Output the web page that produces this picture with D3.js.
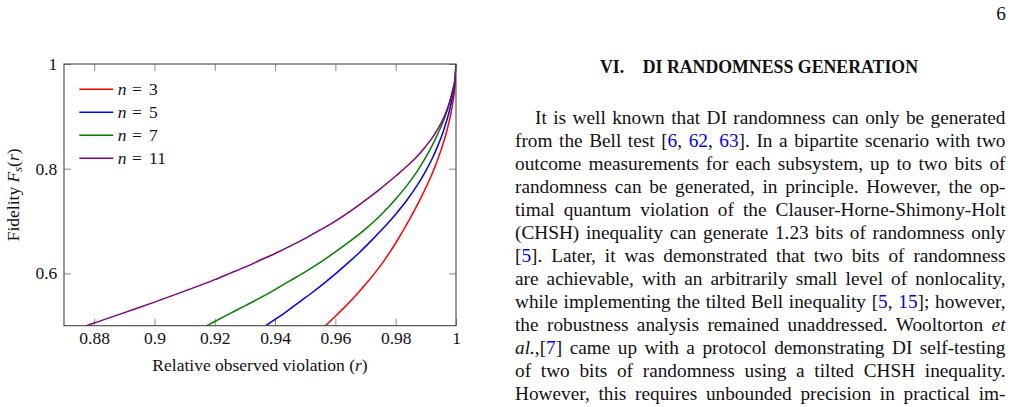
<!DOCTYPE html>
<html><head><meta charset="utf-8">
<script src="https://cdn.jsdelivr.net/npm/d3@7"></script>
<style>
html,body{margin:0;padding:0;background:#fff;}
svg{display:block;font-family:"Liberation Serif","Times New Roman",serif;}
</style></head><body>
<script>
// ---------- data ----------
const seriesN = ["3", "5", "7", "11"];
const seriesColors = ["#ff0000", "#0000ff", "#008000", "#800080"];

const r_n3 = [0.9567,0.958,0.960,0.963,0.966,0.970,0.973,0.976,0.978,0.980,0.983,0.986,0.989,0.991,0.993,0.995,0.997,0.998,0.999,0.9997,1.000];
const F_n3 = [0.500,0.507,0.518,0.535,0.553,0.579,0.600,0.623,0.640,0.658,0.687,0.718,0.752,0.776,0.803,0.835,0.873,0.897,0.928,0.960,1.000];

const r_n5 = [0.9369,0.940,0.944,0.948,0.952,0.956,0.960,0.964,0.968,0.972,0.976,0.980,0.984,0.987,0.990,0.992,0.994,0.996,0.998,0.999,0.9997,1.000];
const F_n5 = [0.500,0.512,0.528,0.545,0.562,0.580,0.599,0.619,0.640,0.663,0.687,0.713,0.742,0.767,0.796,0.818,0.844,0.875,0.915,0.942,0.968,1.000];

const r_n7 = [0.9173,0.920,0.925,0.930,0.935,0.940,0.945,0.950,0.955,0.960,0.965,0.970,0.975,0.980,0.984,0.987,0.990,0.992,0.994,0.996,0.998,0.999,0.9997,1.000];
const F_n7 = [0.500,0.508,0.523,0.538,0.553,0.569,0.586,0.603,0.621,0.641,0.662,0.685,0.711,0.742,0.770,0.794,0.822,0.843,0.867,0.894,0.928,0.950,0.972,1.000];

const r_n11 = [0.8774,0.880,0.890,0.900,0.910,0.920,0.925,0.930,0.935,0.940,0.945,0.950,0.955,0.960,0.965,0.970,0.975,0.980,0.984,0.987,0.990,0.992,0.994,0.996,0.998,0.999,0.9997,1.000];
const F_n11 = [0.500,0.505,0.525,0.545,0.566,0.588,0.600,0.612,0.625,0.638,0.652,0.667,0.683,0.700,0.719,0.740,0.762,0.786,0.806,0.823,0.843,0.858,0.876,0.898,0.930,0.953,0.975,1.000];

const seriesR = [r_n3, r_n5, r_n7, r_n11];
const seriesF = [F_n3, F_n5, F_n7, F_n11];

const xDomain = [0.87, 1];
const yDomain = [0.5, 1];
const xTicks = [0.88, 0.9, 0.92, 0.94, 0.96, 0.98, 1];
const xTickLabels = ["0.88", "0.9", "0.92", "0.94", "0.96", "0.98", "1"];
const yTicks = [0.6, 0.8, 1];
const yTickLabels = ["0.6", "0.8", "1"];

const pageNumber = "6";
const headingNum = "VI.";
const headingText = "DI RANDOMNESS GENERATION";
// body text lines: [text, style]  n = normal, b = blue link, i = italic
const bodyLines = [
  [["It is well known that DI randomness can only be generated","n"]],
  [["from the Bell test [","n"],["6","b"],[", ","n"],["62","b"],[", ","n"],["63","b"],["]. In a bipartite scenario with two","n"]],
  [["outcome measurements for each subsystem, up to two bits of","n"]],
  [["randomness can be generated, in principle. However, the op-","n"]],
  [["timal quantum violation of the Clauser-Horne-Shimony-Holt","n"]],
  [["(CHSH) inequality can generate 1.23 bits of randomness only","n"]],
  [["[","n"],["5","b"],["]. Later, it was demonstrated that two bits of randomness","n"]],
  [["are achievable, with an arbitrarily small level of nonlocality,","n"]],
  [["while implementing the tilted Bell inequality [","n"],["5","b"],[", ","n"],["15","b"],["]; however,","n"]],
  [["the robustness analysis remained unaddressed. Wooltorton ","n"],["et","i"]],
  [["al.","i"],[",[","n"],["7","b"],["] came up with a protocol demonstrating DI self-testing","n"]],
  [["of two bits of randomness using a tilted CHSH inequality.","n"]],
  [["However, this requires unbounded precision in practical im-","n"]]
];

// ---------- layout ----------
const W = 1013, H = 407;
const P = {left: 64, right: 456, top: 64, bottom: 325.7};
const svg = d3.select("body").append("svg").attr("width", W).attr("height", H);
svg.append("rect").attr("width", W).attr("height", H).attr("fill", "#fff");

const x = d3.scaleLinear().domain(xDomain).range([P.left, P.right]);
const y = d3.scaleLinear().domain(yDomain).range([P.bottom, P.top]);
const chartFont = 17.5;
const tickLen = 7;

// axes
const gB = svg.append("g").attr("transform", `translate(0,${P.bottom})`)
  .call(d3.axisBottom(x).tickValues(xTicks).tickFormat((d,i) => xTickLabels[i]).tickSize(-tickLen).tickPadding(6.2));
const gT = svg.append("g").attr("transform", `translate(0,${P.top})`)
  .call(d3.axisTop(x).tickValues(xTicks).tickFormat("").tickSize(-tickLen));
const gL = svg.append("g").attr("transform", `translate(${P.left},0)`)
  .call(d3.axisLeft(y).tickValues(yTicks).tickFormat((d,i) => yTickLabels[i]).tickSize(-tickLen).tickPadding(6.7));
const gR = svg.append("g").attr("transform", `translate(${P.right},0)`)
  .call(d3.axisRight(y).tickValues(yTicks).tickFormat("").tickSize(-tickLen));
[gB, gT, gL, gR].forEach(g => {
  g.select(".domain").remove();
  g.selectAll(".tick line").attr("stroke", "#8a8a8a").attr("stroke-width", 1);
  g.selectAll(".tick text").attr("fill", "#111").attr("font-size", chartFont)
    .attr("font-family", "'Liberation Serif', serif");
});

// clip + curves
svg.append("clipPath").attr("id", "clip").append("rect")
  .attr("x", P.left).attr("y", P.top).attr("width", P.right - P.left).attr("height", P.bottom - P.top);
const line = d3.line().x(d => x(d[0])).y(d => y(d[1])).curve(d3.curveMonotoneX);
svg.append("g").attr("clip-path", "url(#clip)")
  .selectAll("path").data(seriesR.map((r, i) => d3.zip(r, seriesF[i]))).join("path")
  .attr("d", line).attr("fill", "none")
  .attr("stroke", (d, i) => seriesColors[i]).attr("stroke-width", 1.5);

// frame
svg.append("rect").attr("x", P.left).attr("y", P.top)
  .attr("width", P.right - P.left).attr("height", P.bottom - P.top)
  .attr("fill", "none").attr("stroke", "#474747").attr("stroke-width", 1.1);

// legend
const leg = svg.append("g").selectAll("g").data(seriesN).join("g")
  .attr("transform", (d, i) => `translate(79.3,${89.3 + i * 23})`);
leg.append("line").attr("x1", 0).attr("x2", 34).attr("y1", 0).attr("y2", 0)
  .attr("stroke", (d, i) => seriesColors[i]).attr("stroke-width", 1.5);
const lt = leg.append("text").attr("y", 5.8).attr("font-size", chartFont).attr("fill", "#111");
lt.append("tspan").attr("x", 38.4).attr("font-style", "italic").text("n");
lt.append("tspan").attr("x", 52.8).text("=");
lt.append("tspan").attr("x", 69.8).text(d => d);

// axis titles
const xl = svg.append("text").attr("x", (P.left + P.right) / 2).attr("y", 370.5)
  .attr("text-anchor", "middle").attr("font-size", chartFont).attr("fill", "#111");
xl.append("tspan").text("Relative observed violation (");
xl.append("tspan").attr("font-style", "italic").text("r");
xl.append("tspan").text(")");

const yl = svg.append("text").attr("transform", `translate(19,${(P.top + P.bottom) / 2}) rotate(-90)`)
  .attr("text-anchor", "middle").attr("font-size", chartFont).attr("fill", "#111");
yl.append("tspan").text("Fidelity ");
yl.append("tspan").attr("font-style", "italic").text("F");
yl.append("tspan").attr("font-style", "italic").attr("font-size", chartFont * 0.7).attr("dy", 3).text("s");
yl.append("tspan").attr("dy", -3).text("(");
yl.append("tspan").attr("font-style", "italic").text("r");
yl.append("tspan").text(")");

// ---------- right column text ----------
const bodyFont = 19.3;
svg.append("text").attr("x", 1006).attr("y", 19.5).attr("text-anchor", "end")
  .attr("font-size", bodyFont).attr("fill", "#111").text(pageNumber);

// heading: fit width of the title part
const hProbe = svg.append("text").attr("font-size", 100).attr("font-weight", "bold").text(headingText);
const hLen = hProbe.node().getComputedTextLength();
hProbe.remove();
const hSize = 100 * 275.6 / hLen;
svg.append("text").attr("x", 600).attr("y", 73).attr("font-size", hSize).attr("font-weight", "bold")
  .attr("fill", "#111").text(headingNum);
svg.append("text").attr("x", 642.7).attr("y", 73).attr("font-size", hSize).attr("font-weight", "bold")
  .attr("fill", "#111").text(headingText);

const colLeft = 515, colRight = 1005.5, indent = 20, lineGap = 23, firstBase = 124;
bodyLines.forEach((segs, i) => {
  const x0 = i === 0 ? colLeft + indent : colLeft;
  const t = svg.append("text").attr("x", x0).attr("y", firstBase + i * lineGap)
    .attr("font-size", bodyFont).attr("fill", "#111");
  segs.forEach(([s, st]) => {
    const sp = t.append("tspan").text(s);
    if (st === "b") sp.attr("fill", "#0000ff");
    if (st === "i") sp.attr("font-style", "italic");
  });
  const len = t.node().getComputedTextLength();
  const str = t.node().textContent;
  const nSp = (str.match(/ /g) || []).length;
  if (nSp > 0) t.attr("word-spacing", ((colRight - x0) - len) / nSp);
});
</script>
</body></html>
